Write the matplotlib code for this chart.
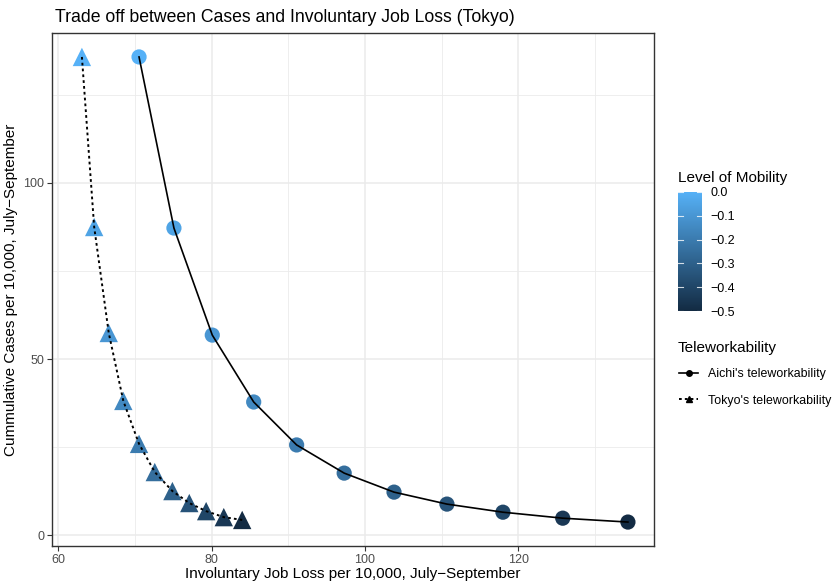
import numpy as np
import matplotlib
matplotlib.use("Agg")
import matplotlib.pyplot as plt
from matplotlib.colors import LinearSegmentedColormap, Normalize
from matplotlib.lines import Line2D

plt.rcParams['font.family'] = ['Liberation Sans', 'DejaVu Sans']

# mobility levels, from no restriction down to -0.5
mobility = [0.0, -0.05, -0.10, -0.15, -0.20, -0.25, -0.30, -0.35, -0.40, -0.45, -0.50]

# Aichi's teleworkability
aichi_loss = [70.55, 75.1, 80.1, 85.5, 91.1, 97.3, 103.8, 110.7, 118.0, 125.8, 134.3]
aichi_cases = [135.8, 87.2, 56.8, 37.8, 25.6, 17.6, 12.2, 8.8, 6.5, 4.8, 3.7]

# Tokyo's teleworkability
tokyo_loss = [63.1, 64.7, 66.6, 68.5, 70.55, 72.6, 74.9, 77.1, 79.3, 81.6, 84.0]
tokyo_cases = [135.8, 87.5, 57.4, 38.1, 25.9, 17.9, 12.5, 9.1, 6.8, 5.1, 4.3]

cmap = LinearSegmentedColormap.from_list('mob', ['#132B43', '#56B1F7'])
norm = Normalize(vmin=-0.5, vmax=0.0)

fig = plt.figure(figsize=(8.33, 5.86), dpi=100)
ax = fig.add_axes([52/833, 1-546/586, (654-52)/833, (546-33)/586])

ax.set_xlim(59.2, 137.7)
ax.set_ylim(-3.1, 142.6)
ax.set_xticks([60, 80, 100, 120])
ax.set_yticks([0, 50, 100])
ax.set_xticks([70, 90, 110, 130], minor=True)
ax.set_yticks([25, 75, 125], minor=True)
ax.grid(True, which='major', color='#EBEBEB', linewidth=1.1, zorder=0)
ax.grid(True, which='minor', color='#EBEBEB', linewidth=0.6, zorder=0)
ax.tick_params(which='minor', length=0)
ax.tick_params(which='major', length=3.5, width=0.8, color='#333333',
               labelcolor='#4D4D4D', labelsize=9, pad=2)
for s in ax.spines.values():
    s.set_color('#333333')
    s.set_linewidth(1.0)
ax.set_axisbelow(True)

ax.scatter(aichi_loss, aichi_cases, c=mobility, cmap=cmap, norm=norm,
           marker='o', s=120, linewidths=0, zorder=2)
ax.scatter(tokyo_loss, tokyo_cases, c=mobility, cmap=cmap, norm=norm,
           marker='^', s=175, linewidths=0, zorder=2)
ax.plot(aichi_loss, aichi_cases, color='black', linewidth=1.2, zorder=3)
ax.plot(tokyo_loss, tokyo_cases, color='black', linewidth=1.4,
        linestyle=(0, (1.4, 1.6)), zorder=3)

ax.set_xlabel('Involuntary Job Loss per 10,000, July\u2212September', fontsize=11, labelpad=1)
ax.set_ylabel('Cummulative Cases per 10,000, July\u2212September', fontsize=11, labelpad=4)
fig.text(55/833, 1-18/586, 'Trade off between Cases and Involuntary Job Loss (Tokyo)',
         fontsize=12.7, va='center', ha='left')

# colourbar for mobility
cax = fig.add_axes([678/833, 1-311/586, 24/833, 119/586])
grad = np.linspace(-0.5, 0.0, 256).reshape(-1, 1)
cax.imshow(grad, aspect='auto', cmap=cmap, norm=norm, origin='lower',
           extent=[0, 1, -0.5, 0.0])
cax.set_xlim(0, 1)
cax.set_ylim(-0.5, 0.0)
for s in cax.spines.values():
    s.set_visible(False)
cax.set_xticks([])
cax.yaxis.tick_right()
ticks = [0.0, -0.1, -0.2, -0.3, -0.4, -0.5]
cax.set_yticks(ticks)
cax.set_yticklabels(['0.0', '\u22120.1', '\u22120.2', '\u22120.3', '\u22120.4', '\u22120.5'])
cax.tick_params(axis='y', length=0, labelsize=9, labelcolor='black', pad=6)
for t in ticks:
    cax.plot([0, 0.2], [t, t], color='white', linewidth=0.8, alpha=0.8)
    cax.plot([0.8, 1], [t, t], color='white', linewidth=0.8, alpha=0.8)
fig.text(678/833, 1-178/586, 'Level of Mobility', fontsize=11, va='center', ha='left')

# line type legend
fig.text(678/833, 1-348/586, 'Teleworkability', fontsize=11, va='center', ha='left')
handles = [
    Line2D([], [], color='black', linewidth=1.2, marker='o', markersize=4),
    Line2D([], [], color='black', linewidth=1.4, linestyle=(0, (1.4, 1.6)),
           marker='^', markersize=5),
]
fig.legend(handles, ["Aichi's teleworkability", "Tokyo's teleworkability"],
           loc='upper left', bbox_to_anchor=(677/833, 1-366/586), frameon=False,
           fontsize=8.9, handlelength=1.5, handletextpad=0.8, labelspacing=1.15,
           borderaxespad=0, borderpad=0.2)

fig.savefig('out.png', dpi=100)
